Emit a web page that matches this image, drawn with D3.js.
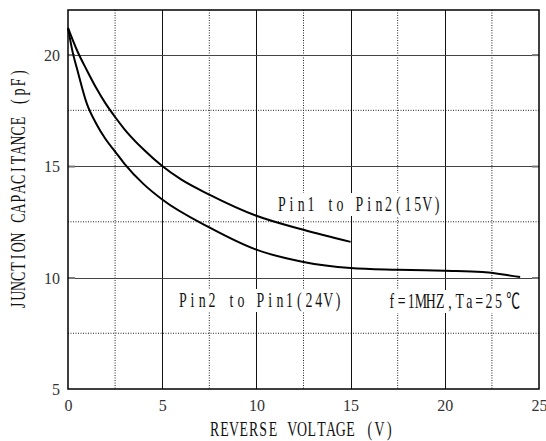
<!DOCTYPE html>
<html>
<head>
<meta charset="utf-8">
<script src="https://cdn.jsdelivr.net/npm/d3@7"></script>
<style>
	body { margin: 0; background: #fff; }
	svg { display: block; }
	text { font-family: "Liberation Serif", "Times New Roman", "Noto Sans CJK SC", serif; }
</style>
</head>
<body>
<div id="chart"></div>
<script>
// values
const xTicks = [0, 5, 10, 15, 20, 25];
const yTicks = [5, 10, 15, 20];
const xMinor = [2.5, 7.5, 12.5, 17.5, 22.5];
const yMinor = [7.5, 12.5, 17.5];

const voltsP12 = [0, 0.5, 1, 1.5, 2, 2.5, 3, 4, 5, 6, 7.5, 10, 12.5, 15];
const capP12 = [21.2, 20.15, 19.3, 18.5, 17.8, 17.2, 16.65, 15.75, 15.0, 14.4, 13.72, 12.77, 12.14, 11.6];

const voltsP21 = [0, 0.25, 0.5, 1, 1.5, 2, 2.5, 3, 4, 5, 7.5, 10, 12.5, 15, 17.5, 20, 22, 23, 24];
const capP21 = [21.2, 20.1, 19.3, 17.8, 16.9, 16.2, 15.65, 15.1, 14.2, 13.5, 12.25, 11.25, 10.7, 10.43, 10.35, 10.3, 10.25, 10.15, 10.02];

// set the dimensions and margins of the graph
const margin = { top: 10, right: 7, bottom: 52, left: 68 };
const width = 546 - margin.left - margin.right;
const height = 441 - margin.top - margin.bottom;

const x = d3.scaleLinear().domain([0, 25]).range([0, width]);
const y = d3.scaleLinear().domain([5, 22]).range([height, 0]);

const svg = d3.select("#chart").append("svg")
	.attr("width", 546)
	.attr("height", 441);

const g = svg.append("g")
	.attr("transform", "translate(" + margin.left + "," + margin.top + ")");

// draw text on a fixed-width grid, like the half-width font of the original
function monoText(parent, str, cx, cy, opts) {
	const cell = opts.cell || 9.7;
	const size = opts.size || 21;
	const sx = opts.sx || 0.66;
	const chars = Array.from(str);
	const cells = chars.map(c => c.charCodeAt(0) > 0x2000 ? 2 : 1);
	const total = d3.sum(cells) * cell;
	const start = opts.anchor === "middle" ? -total / 2 : 0;
	const pos = [];
	let acc = start;
	cells.forEach(n => { pos.push((acc + n * cell / 2) / sx); acc += n * cell; });
	const grp = parent.append("g")
		.attr("transform", "translate(" + cx + "," + cy + ")" + (opts.rotate ? " rotate(" + opts.rotate + ")" : "") + " scale(" + sx + ",1)");
	grp.append("text")
		.attr("x", pos.join(" "))
		.attr("y", 0)
		.attr("text-anchor", "middle")
		.style("font-size", size + "px")
		.style("fill", "#111")
		.text(str);
}

// grid
g.selectAll(".vminor").data(xMinor).enter().append("line")
	.attr("x1", d => x(d)).attr("x2", d => x(d))
	.attr("y1", 0).attr("y2", height)
	.attr("stroke", "#222").attr("stroke-width", 1)
	.attr("stroke-dasharray", "1,1.5");
g.selectAll(".hminor").data(yMinor).enter().append("line")
	.attr("x1", 0).attr("x2", width)
	.attr("y1", d => y(d)).attr("y2", d => y(d))
	.attr("stroke", "#222").attr("stroke-width", 1)
	.attr("stroke-dasharray", "1,1.5");
g.selectAll(".vmajor").data(xTicks.slice(1, -1)).enter().append("line")
	.attr("x1", d => Math.round(x(d)) + 0.5).attr("x2", d => Math.round(x(d)) + 0.5)
	.attr("y1", 0).attr("y2", height)
	.attr("stroke", "#111").attr("stroke-width", 1);
g.selectAll(".hmajor").data(yTicks.slice(1)).enter().append("line")
	.attr("x1", 0).attr("x2", width)
	.attr("y1", d => Math.round(y(d)) + 0.5).attr("y2", d => Math.round(y(d)) + 0.5)
	.attr("stroke", "#444").attr("stroke-width", 1.2);

// inward ticks on both sides
g.append("g").call(d3.axisLeft(y).tickValues(yTicks.slice(1)).tickSize(-7).tickFormat(""))
	.call(a => a.select(".domain").remove())
	.selectAll("line").attr("stroke", "#777").attr("stroke-width", 2);
g.append("g").attr("transform", "translate(" + width + ",0)")
	.call(d3.axisRight(y).tickValues(yTicks.slice(1)).tickSize(-7).tickFormat(""))
	.call(a => a.select(".domain").remove())
	.selectAll("line").attr("stroke", "#777").attr("stroke-width", 2);

// tick labels
const xAxis = g.append("g").attr("transform", "translate(0," + height + ")")
	.call(d3.axisBottom(x).tickValues(xTicks).tickSize(0).tickPadding(11));
xAxis.select(".domain").remove();
xAxis.selectAll("text").style("font-size", "16px").style("fill", "#333");

const yAxis = g.append("g")
	.call(d3.axisLeft(y).tickValues(yTicks).tickSize(0).tickPadding(8));
yAxis.select(".domain").remove();
yAxis.selectAll("text").style("font-size", "16px").style("fill", "#333")
	.attr("dy", "0.36em");
svg.selectAll("g").attr("font-family", null);

// curves
const line = d3.line()
	.x(d => x(d[0]))
	.y(d => y(d[1]))
	.curve(d3.curveMonotoneX);

g.append("path")
	.datum(d3.zip(voltsP12, capP12))
	.attr("d", line)
	.attr("fill", "none").attr("stroke", "#000").attr("stroke-width", 2);
g.append("path")
	.datum(d3.zip(voltsP21, capP21))
	.attr("d", line)
	.attr("fill", "none").attr("stroke", "#000").attr("stroke-width", 2);

// frame
g.append("rect")
	.attr("width", width).attr("height", height)
	.attr("fill", "none").attr("stroke", "#000").attr("stroke-width", 1.5);

// labels with white boxes
function boxedLabel(str, left, base) {
	const cells = d3.sum(Array.from(str), c => c.charCodeAt(0) > 0x2000 ? 2 : 1);
	svg.append("rect")
		.attr("x", left - 3).attr("y", base - 18)
		.attr("width", cells * 9.7 + 6).attr("height", 23)
		.attr("fill", "#fff");
	monoText(svg, str, left, base, {});
}
boxedLabel("Pin1 to Pin2(15V)", 277, 211);
boxedLabel("Pin2 to Pin1(24V)", 178, 307);
boxedLabel("f=1MHZ,Ta=25℃", 387, 308);

// axis titles
monoText(svg, "REVERSE VOLTAGE (V)", 302, 436, { anchor: "middle" });
monoText(svg, "JUNCTION CAPACITANCE (pF)", 25, 189, { anchor: "middle", rotate: -90 });
</script>
</body>
</html>
